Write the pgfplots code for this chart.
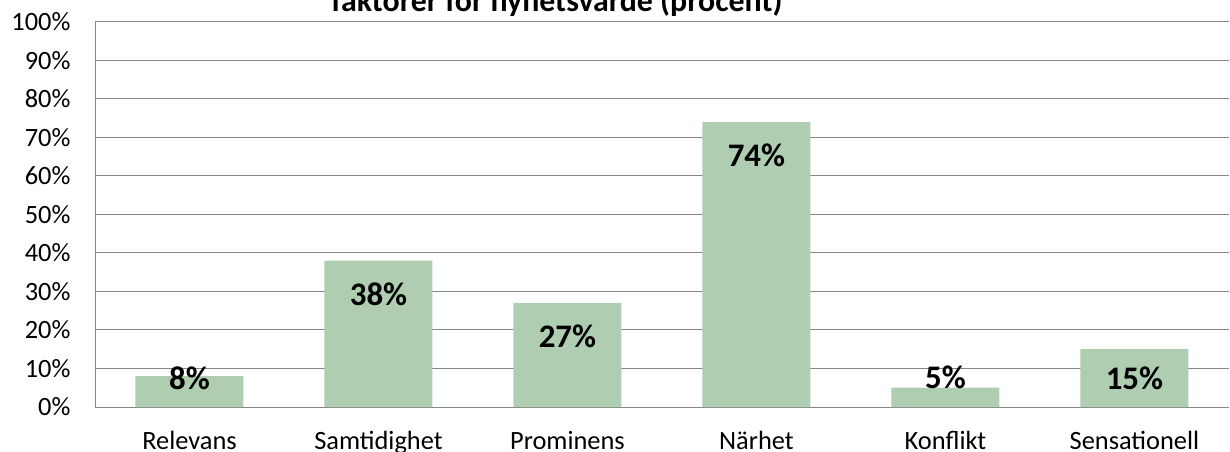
\documentclass[border=0pt]{standalone}
\usepackage{pgfplots}
\pgfplotsset{compat=1.18}
\usepackage{fontspec}
\setmainfont{Carlito}
\definecolor{barg}{RGB}{174,205,177}
\definecolor{gridg}{RGB}{134,134,134}
\begin{document}
\begin{tikzpicture}
\begin{axis}[
  scale only axis, width=1134bp, height=385bp,
  anchor=south west, at={(95bp,45bp)},
  xmin=-0.5, xmax=5.5, ymin=0, ymax=100,
  xtick={0,1,2,3,4,5},
  xticklabels={Relevans,Samtidighet,Prominens,Närhet,Konflikt,Sensationell},
  ytick={0,10,20,30,40,50,60,70,80,90,100},
  yticklabels={0\%,10\%,20\%,30\%,40\%,50\%,60\%,70\%,80\%,90\%,100\%},
  axis x line*=bottom, axis y line*=left,
  major tick length=0pt,
  ymajorgrids, grid style={gridg, line width=1bp},
  axis line style={gridg, line width=1bp},
  tick label style={font=\fontsize{26.5}{26.5}\selectfont, text=black},
  xticklabel style={anchor=base, yshift=-42bp},
  yticklabel style={anchor=east, xshift=-21bp},
  clip=false,
]
\addplot[ybar, bar width=108bp, fill=barg, draw=none] coordinates {(0,8) (1,38) (2,27) (3,74) (4,5) (5,15)};
\addplot[draw=none, mark=none, nodes near coords={\pgfplotspointmeta\%}, point meta=explicit symbolic,
  every node near coord/.style={anchor=center, font=\bfseries\fontsize{33}{33}\selectfont, text=black}]
  table[meta=lab] {
x y lab
0 7.5 8
1 29.4 38
2 18.4 27
3 65.5 74
4 7.7 5
5 7.5 15
};
\end{axis}
\node[font=\bfseries\fontsize{32}{32}\selectfont, anchor=base] at (557bp,440bp) {faktorer för nyhetsvärde (procent)};
\pgfresetboundingbox
\useasboundingbox (0,0) rectangle (1230bp,452bp);
\end{tikzpicture}
\end{document}
